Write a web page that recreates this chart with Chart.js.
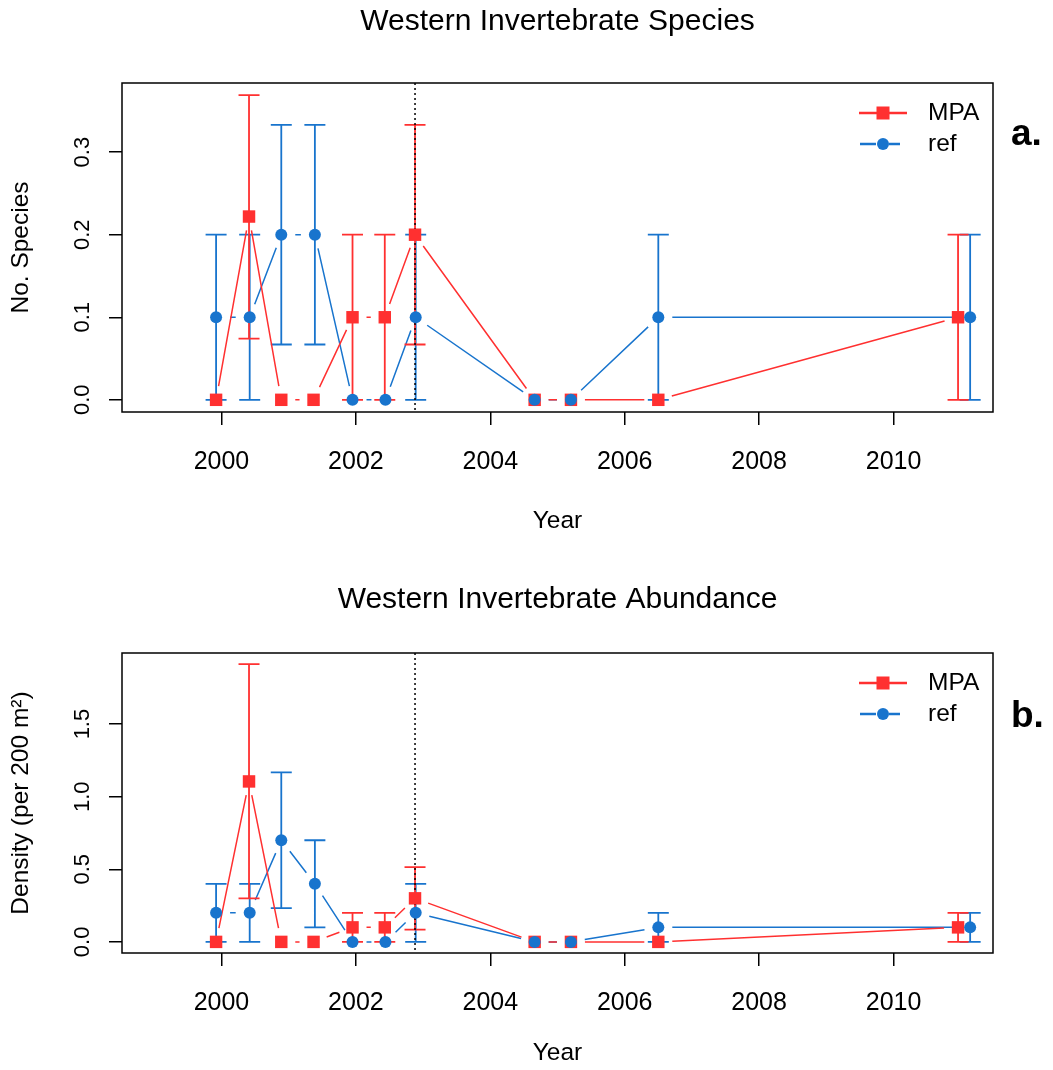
<!DOCTYPE html>
<html>
<head>
<meta charset="utf-8">
<title>Western Invertebrates</title>
<script src="https://cdn.jsdelivr.net/npm/chart.js@4.4.1/dist/chart.umd.min.js"></script>
<style>
  html, body { margin: 0; padding: 0; background: #fff; }
  .panel { width: 1053px; height: 535px; }
  canvas { display: block; }
</style>
</head>
<body>
<div class="panel"><canvas id="speciesChart" width="1053" height="535"></canvas></div>
<div class="panel"><canvas id="abundanceChart" width="1053" height="535"></canvas></div>
<script>
// survey dates (decimal years)
const mpaYears = [1999.92, 2000.41, 2000.89, 2001.37, 2001.95, 2002.43, 2002.88, 2004.66, 2005.20, 2006.50, 2010.96];
const refYears = [1999.92, 2000.42, 2000.89, 2001.39, 2001.95, 2002.44, 2002.89, 2004.66, 2005.20, 2006.50, 2011.14];
const xTicks = [2000, 2002, 2004, 2006, 2008, 2010];
const xLimits = [1999, 2011];
const protectionYear = 2002.88;

// a. number of species
const speciesTicks = [0, 0.1, 0.2, 0.3];
const speciesLimits = [0, 0.369];
const mpaSpecies   = [0, 0.222, 0, 0, 0.1, 0.1, 0.2, 0, 0, 0, 0.1];
const mpaSpeciesLo = [0, 0.074, 0, 0, 0, 0, 0.067, 0, 0, 0, 0];
const mpaSpeciesHi = [0, 0.369, 0, 0, 0.2, 0.2, 0.333, 0, 0, 0, 0.2];
const refSpecies   = [0.1, 0.1, 0.2, 0.2, 0, 0, 0.1, 0, 0, 0.1, 0.1];
const refSpeciesLo = [0, 0, 0.067, 0.067, 0, 0, 0, 0, 0, 0, 0];
const refSpeciesHi = [0.2, 0.2, 0.333, 0.333, 0, 0, 0.2, 0, 0, 0.2, 0.2];

// b. density
const densityTicks = [0, 0.5, 1.0, 1.5];
const densityLimits = [0, 1.913];
const mpaDensity   = [0, 1.105, 0, 0, 0.1, 0.1, 0.3, 0, 0, 0, 0.1];
const mpaDensityLo = [0, 0.3, 0, 0, 0, 0, 0.085, 0, 0, 0, 0];
const mpaDensityHi = [0, 1.913, 0, 0, 0.2, 0.2, 0.515, 0, 0, 0, 0.2];
const refDensity   = [0.2, 0.2, 0.7, 0.4, 0, 0, 0.2, 0, 0, 0.1, 0.1];
const refDensityLo = [0, 0, 0.233, 0.1, 0, 0, 0, 0, 0, 0, 0];
const refDensityHi = [0.4, 0.4, 1.167, 0.7, 0, 0, 0.4, 0, 0, 0.2, 0.2];

const RED = '#ff3030';
const BLUE = '#1874cd';
const FONT = '"Liberation Sans", Arial, Helvetica, sans-serif';

// R extends axis limits by 4% on each side
const padRange = (lo, hi) => { const d = (hi - lo) * 0.04; return [lo - d, hi + d]; };
const toPoints = (xs, ys) => xs.map((x, i) => ({ x: x, y: ys[i] }));

// everything R draws that chart.js doesn't: type="b" lines, error bars, box, legend...
const panelPlugin = {
  id: 'panel',
  beforeDatasetsDraw(chart, args, opts) {
    const { ctx, chartArea, scales } = chart;
    const gap = 14;
    ctx.save();
    // draw MPA first so ref sits on top
    [1, 0].forEach(i => {
      const ds = chart.data.datasets[i];
      const pts = chart.getDatasetMeta(i).data;
      ctx.strokeStyle = ds.backgroundColor;
      ctx.lineWidth = 1.5;
      ctx.beginPath();
      for (let k = 1; k < pts.length; k++) {
        const a = pts[k - 1], b = pts[k];
        const dx = b.x - a.x, dy = b.y - a.y, d = Math.hypot(dx, dy);
        if (d <= 2 * gap) continue;
        const ux = dx / d, uy = dy / d;
        ctx.moveTo(a.x + ux * gap, a.y + uy * gap);
        ctx.lineTo(b.x - ux * gap, b.y - uy * gap);
      }
      ctx.stroke();

      // error bars
      ctx.lineWidth = 1.8;
      ctx.beginPath();
      pts.forEach((p, k) => {
        const lo = ds.errLo[k], hi = ds.errHi[k];
        if (hi <= lo) return;
        const y1 = scales.y.getPixelForValue(lo), y2 = scales.y.getPixelForValue(hi);
        ctx.moveTo(p.x, y1); ctx.lineTo(p.x, y2);
        ctx.moveTo(p.x - 10.5, y1); ctx.lineTo(p.x + 10.5, y1);
        ctx.moveTo(p.x - 10.5, y2); ctx.lineTo(p.x + 10.5, y2);
      });
      ctx.stroke();
    });

    // dotted line at the protection date
    const vx = scales.x.getPixelForValue(protectionYear);
    ctx.strokeStyle = '#000';
    ctx.lineWidth = 1.5;
    ctx.setLineDash([2, 3]);
    ctx.beginPath();
    ctx.moveTo(vx, chartArea.top);
    ctx.lineTo(vx, chartArea.bottom);
    ctx.stroke();
    ctx.restore();
  },
  afterDraw(chart, args, opts) {
    const { ctx, chartArea, scales } = chart;
    ctx.save();
    ctx.strokeStyle = '#000';
    ctx.lineWidth = 1.5;
    ctx.strokeRect(chartArea.left, chartArea.top, chartArea.right - chartArea.left, chartArea.bottom - chartArea.top);

    ctx.fillStyle = '#000';
    // main title
    ctx.font = '30px ' + FONT;
    ctx.textAlign = 'center';
    ctx.textBaseline = 'middle';
    ctx.fillText(opts.title, (chartArea.left + chartArea.right) / 2, opts.titleY);

    // y tick labels, rotated like R's las=0
    ctx.font = '22px ' + FONT;
    scales.y.ticks.forEach(t => {
      ctx.save();
      ctx.translate(chartArea.left - 39, scales.y.getPixelForValue(t.value));
      ctx.rotate(-Math.PI / 2);
      ctx.fillText(t.value.toFixed(1), 0, 0);
      ctx.restore();
    });

    // legend, top right inside the box
    ctx.font = '24.5px ' + FONT;
    ctx.textAlign = 'left';
    const lx = chartArea.right - 110;
    [0, 1].forEach(i => {
      const ds = chart.data.datasets[i];
      const ly = chartArea.top + 30 + i * 31;
      ctx.strokeStyle = ds.backgroundColor;
      ctx.fillStyle = ds.backgroundColor;
      ctx.lineWidth = 2.5;
      ctx.beginPath();
      if (i === 0) {
        ctx.moveTo(lx - 24, ly); ctx.lineTo(lx + 24, ly);
        ctx.stroke();
        ctx.fillRect(lx - 6.5, ly - 6.5, 13, 13);
      } else {
        ctx.moveTo(lx - 23, ly); ctx.lineTo(lx - 7, ly);
        ctx.moveTo(lx + 6, ly); ctx.lineTo(lx + 17, ly);
        ctx.stroke();
        ctx.beginPath();
        ctx.arc(lx, ly, 6, 0, Math.PI * 2);
        ctx.fill();
      }
      ctx.fillStyle = '#000';
      ctx.fillText(ds.label, chartArea.right - 65, ly);
    });

    // panel letter
    ctx.font = 'bold 37px ' + FONT;
    ctx.textBaseline = 'alphabetic';
    ctx.fillText(opts.letter, 1011, opts.letterY);
    ctx.restore();
  }
};

function makePanel(canvasId, p) {
  const xRange = padRange(xLimits[0], xLimits[1]);
  const yRange = padRange(p.limits[0], p.limits[1]);
  return new Chart(document.getElementById(canvasId), {
    type: 'scatter',
    data: {
      datasets: [
        {
          label: 'MPA',
          data: toPoints(mpaYears, p.mpa),
          errLo: p.mpaLo,
          errHi: p.mpaHi,
          backgroundColor: RED,
          pointStyle: 'rect',
          pointRadius: 8.8,
          borderWidth: 0,
          order: 1
        },
        {
          label: 'ref',
          data: toPoints(refYears, p.ref),
          errLo: p.refLo,
          errHi: p.refHi,
          backgroundColor: BLUE,
          pointStyle: 'circle',
          pointRadius: 6,
          borderWidth: 0,
          order: 0
        }
      ]
    },
    options: {
      responsive: false,
      animation: false,
      events: [],
      layout: { padding: { top: p.top, right: 60, bottom: 0, left: 0 } },
      plugins: {
        legend: { display: false },
        tooltip: { enabled: false },
        panel: { title: p.title, titleY: p.titleY, letter: p.letter, letterY: p.letterY }
      },
      scales: {
        x: {
          type: 'linear',
          bounds: 'data',
          min: xRange[0],
          max: xRange[1],
          afterBuildTicks: s => { s.ticks = xTicks.map(v => ({ value: v })); },
          afterFit: s => { s.height = p.xAxisHeight; },
          grid: { drawOnChartArea: false, drawTicks: true, tickLength: 13, color: '#000', lineWidth: 1.5 },
          border: { display: false },
          ticks: {
            padding: 22,
            color: '#000',
            font: { family: FONT, size: 25 },
            callback: v => String(v)
          },
          title: {
            display: true,
            text: 'Year',
            color: '#000',
            font: { family: FONT, size: 24.5, lineHeight: 1.1 },
            padding: { top: 0, bottom: p.yearPad }
          }
        },
        y: {
          type: 'linear',
          bounds: 'data',
          min: yRange[0],
          max: yRange[1],
          afterBuildTicks: s => { s.ticks = p.ticks.map(v => ({ value: v })); },
          afterFit: s => { s.width = 122; },
          grid: { drawOnChartArea: false, drawTicks: true, tickLength: 13, color: '#000', lineWidth: 1.5 },
          border: { display: false },
          ticks: { display: false },
          title: {
            display: true,
            text: p.yTitle,
            color: '#000',
            font: { family: FONT, size: 24.5, lineHeight: 1.1 },
            padding: { top: 8, bottom: 0 }
          }
        }
      }
    },
    plugins: [panelPlugin]
  });
}

makePanel('speciesChart', {
  title: 'Western Invertebrate Species',
  titleY: 22,
  letter: 'a.',
  letterY: 145,
  yTitle: 'No. Species',
  top: 83,
  xAxisHeight: 123,
  yearPad: 0,
  ticks: speciesTicks,
  limits: speciesLimits,
  mpa: mpaSpecies, mpaLo: mpaSpeciesLo, mpaHi: mpaSpeciesHi,
  ref: refSpecies, refLo: refSpeciesLo, refHi: refSpeciesHi
});

makePanel('abundanceChart', {
  title: 'Western Invertebrate Abundance',
  titleY: 65,
  letter: 'b.',
  letterY: 192,
  yTitle: 'Density (per 200 m²)',
  top: 118,
  xAxisHeight: 117,
  yearPad: 3,
  ticks: densityTicks,
  limits: densityLimits,
  mpa: mpaDensity, mpaLo: mpaDensityLo, mpaHi: mpaDensityHi,
  ref: refDensity, refLo: refDensityLo, refHi: refDensityHi
});
</script>
</body>
</html>
